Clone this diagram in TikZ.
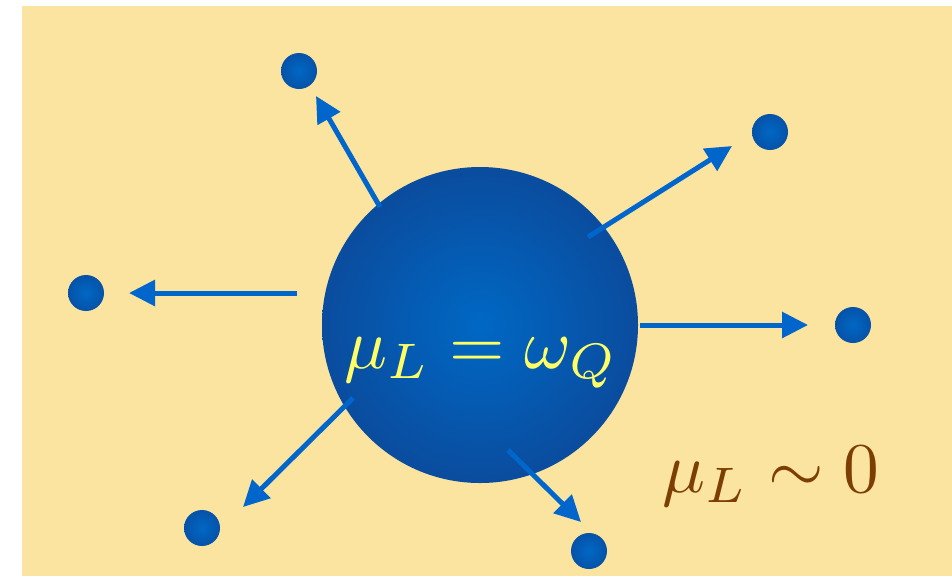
\documentclass[tikz,border=0pt]{standalone}
\usetikzlibrary{arrows.meta}
\definecolor{bgyellow}{RGB}{250,228,160}
\definecolor{arrowblue}{RGB}{0,102,204}
\definecolor{bigin}{RGB}{0,104,196}
\definecolor{bigout}{RGB}{10,76,158}
\definecolor{dotin}{RGB}{0,104,196}
\definecolor{dotout}{RGB}{6,82,168}
\definecolor{textyellow}{RGB}{255,255,102}
\definecolor{textbrown}{RGB}{125,62,4}
\tikzset{
  bigball/.style={circle, minimum size=316*0.75pt, inner sep=0pt, shading=radial, inner color=bigin, outer color=bigout},
  particle/.style={circle, minimum size=36*0.75pt, inner sep=0pt, shading=radial, inner color=dotin, outer color=dotout},
  emit/.style={arrowblue, line width=3.75pt, -{Triangle[length=19.5pt, width=19pt]}},
  bigtext/.style={scale=5.35, anchor=base, inner sep=0pt}
}
\begin{document}
\begin{tikzpicture}[x=0.75pt, y=-0.75pt]
\useasboundingbox (0,0) rectangle (952,576);
\fill[white] (0,0) rectangle (952,576);
\fill[bgyellow] (22,6) rectangle (952,576);
% big ball
\node[bigball] (ball) at (480,325) {};
% particles
\node[particle] (p1) at (299,71) {};
\node[particle] (p2) at (770,132) {};
\node[particle] (p3) at (86,293) {};
\node[particle] (p4) at (853,325) {};
\node[particle] (p5) at (202,528) {};
\node[particle] (p6) at (589,551) {};
% arrow ends
\coordinate (s1) at (380,207); \coordinate (e1) at (316,96);
\coordinate (s2) at (588,237); \coordinate (e2) at (732,146);
\coordinate (s3) at (297,293); \coordinate (e3) at (129,293);
\coordinate (s4) at (640,325); \coordinate (e4) at (808,325);
\coordinate (s5) at (353,398); \coordinate (e5) at (243,507);
\coordinate (s6) at (508,450); \coordinate (e6) at (581,522);
\draw[emit] (s1) -- (e1);
\draw[emit] (s2) -- (e2);
\draw[emit] (s3) -- (e3);
\draw[emit] (s4) -- (e4);
\draw[emit] (s5) -- (e5);
\draw[emit] (s6) -- (e6);
% labels
\node[bigtext, text=textyellow] (inside) at (481,368) {$\mu_L=\omega_Q$};
\node[bigtext, text=textbrown] (outside) at (771,492) {$\mu_L\sim 0$};
\end{tikzpicture}
\end{document}
